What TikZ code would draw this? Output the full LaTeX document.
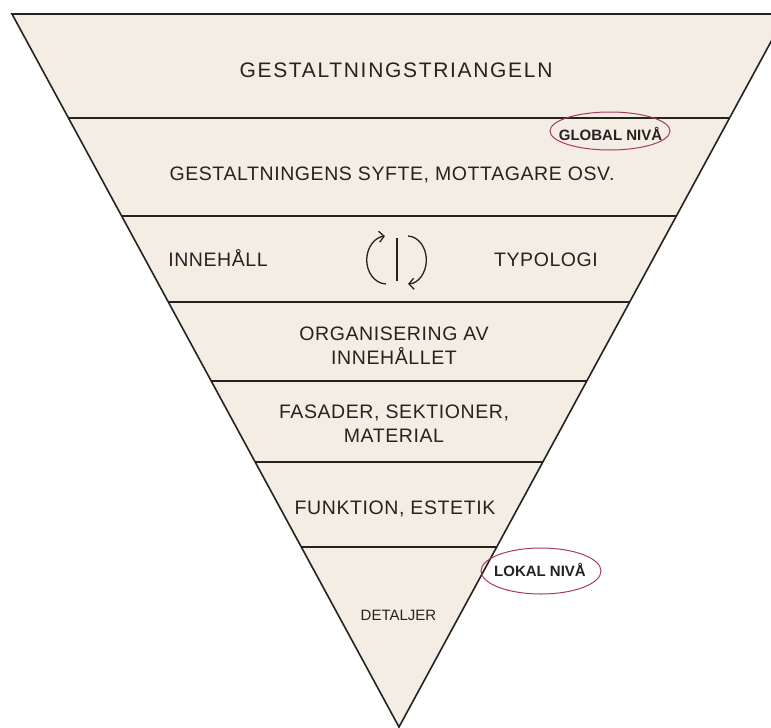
\documentclass[tikz,border=0pt]{standalone}
\usepackage{fontspec}
\setmainfont{Liberation Sans}
\newfontfamily\rowfont{Liberation Sans}[LetterSpace=3]
\newfontfamily\headfont{Liberation Sans}[LetterSpace=8]
\usetikzlibrary{arrows.meta}
\definecolor{trifill}{RGB}{243,237,228}
\definecolor{triline}{RGB}{38,34,34}
\definecolor{levelred}{RGB}{168,58,98}
\tikzset{every picture/.style={line width=1.6pt}}

\begin{document}
\begin{tikzpicture}[x=1pt,y=-1pt,>={Straight Barb[length=5pt,width=11pt]},
  every node/.style={text=triline,inner sep=0pt},
  layer/.style={font=\rowfont\fontsize{19.5}{24}\selectfont,align=center},
  level/.style={font=\bfseries\fontsize{15}{18}\selectfont},
  ring/.style={draw=levelred,line width=1pt},
  swap/.style={triline,line width=1.3pt}]

  \clip (0,0) rectangle (771,728);

  % The inverted triangle and its six cuts.
  \coordinate (tl) at (12,14);
  \coordinate (tr) at (786,14);
  \coordinate (tip) at (399,727);
  \filldraw[draw=triline,fill=trifill] (tl) -- (tr) -- (tip) -- cycle;
  \foreach \yy in {118,216,302,381,462,547}
    \draw[triline] ({12+(\yy-14)/713*387},\yy) -- ({786-(\yy-14)/713*387},\yy);

  % Layer texts, top to bottom.
  \node[font=\headfont\fontsize{21}{24}\selectfont,anchor=base] (title)
    at (396,77) {GESTALTNINGSTRIANGELN};
  \node[layer,anchor=base] (purpose) at (392,180)
    {GESTALTNINGENS SYFTE, MOTTAGARE OSV.};
  \node[layer,anchor=base] (content) at (218,266) {INNEHÅLL};
  \node[layer,anchor=base] (typology) at (546,266) {TYPOLOGI};
  \node[layer] (organise) at (394,346) {ORGANISERING AV\\INNEHÅLLET};
  \node[layer] (facade) at (394,423.4) {FASADER, SEKTIONER,\\MATERIAL};
  \node[layer,anchor=base] (function) at (395,514) {FUNKTION, ESTETIK};
  \node[font=\fontsize{15}{18}\selectfont,anchor=base] (detail)
    at (398.5,620) {DETALJER};

  % Back-and-forth between content and typology.
  \draw[swap] (397,238) -- (397,281);
  \draw[swap,->] (386,284) arc[start angle=92,end angle=265,x radius=20,y radius=24];
  \draw[swap,->] (408,236) arc[start angle=272,end angle=448,x radius=19,y radius=24];

  % Global and local level marks.
  \node[level,anchor=base] (global) at (610.5,140) {GLOBAL NIVÅ};
  \draw[ring] (610,131) ellipse[x radius=60,y radius=19];
  \node[level,anchor=base] (local) at (540,576) {LOKAL NIVÅ};
  \draw[ring] (541,571) ellipse[x radius=60,y radius=23];
\end{tikzpicture}
\end{document}
